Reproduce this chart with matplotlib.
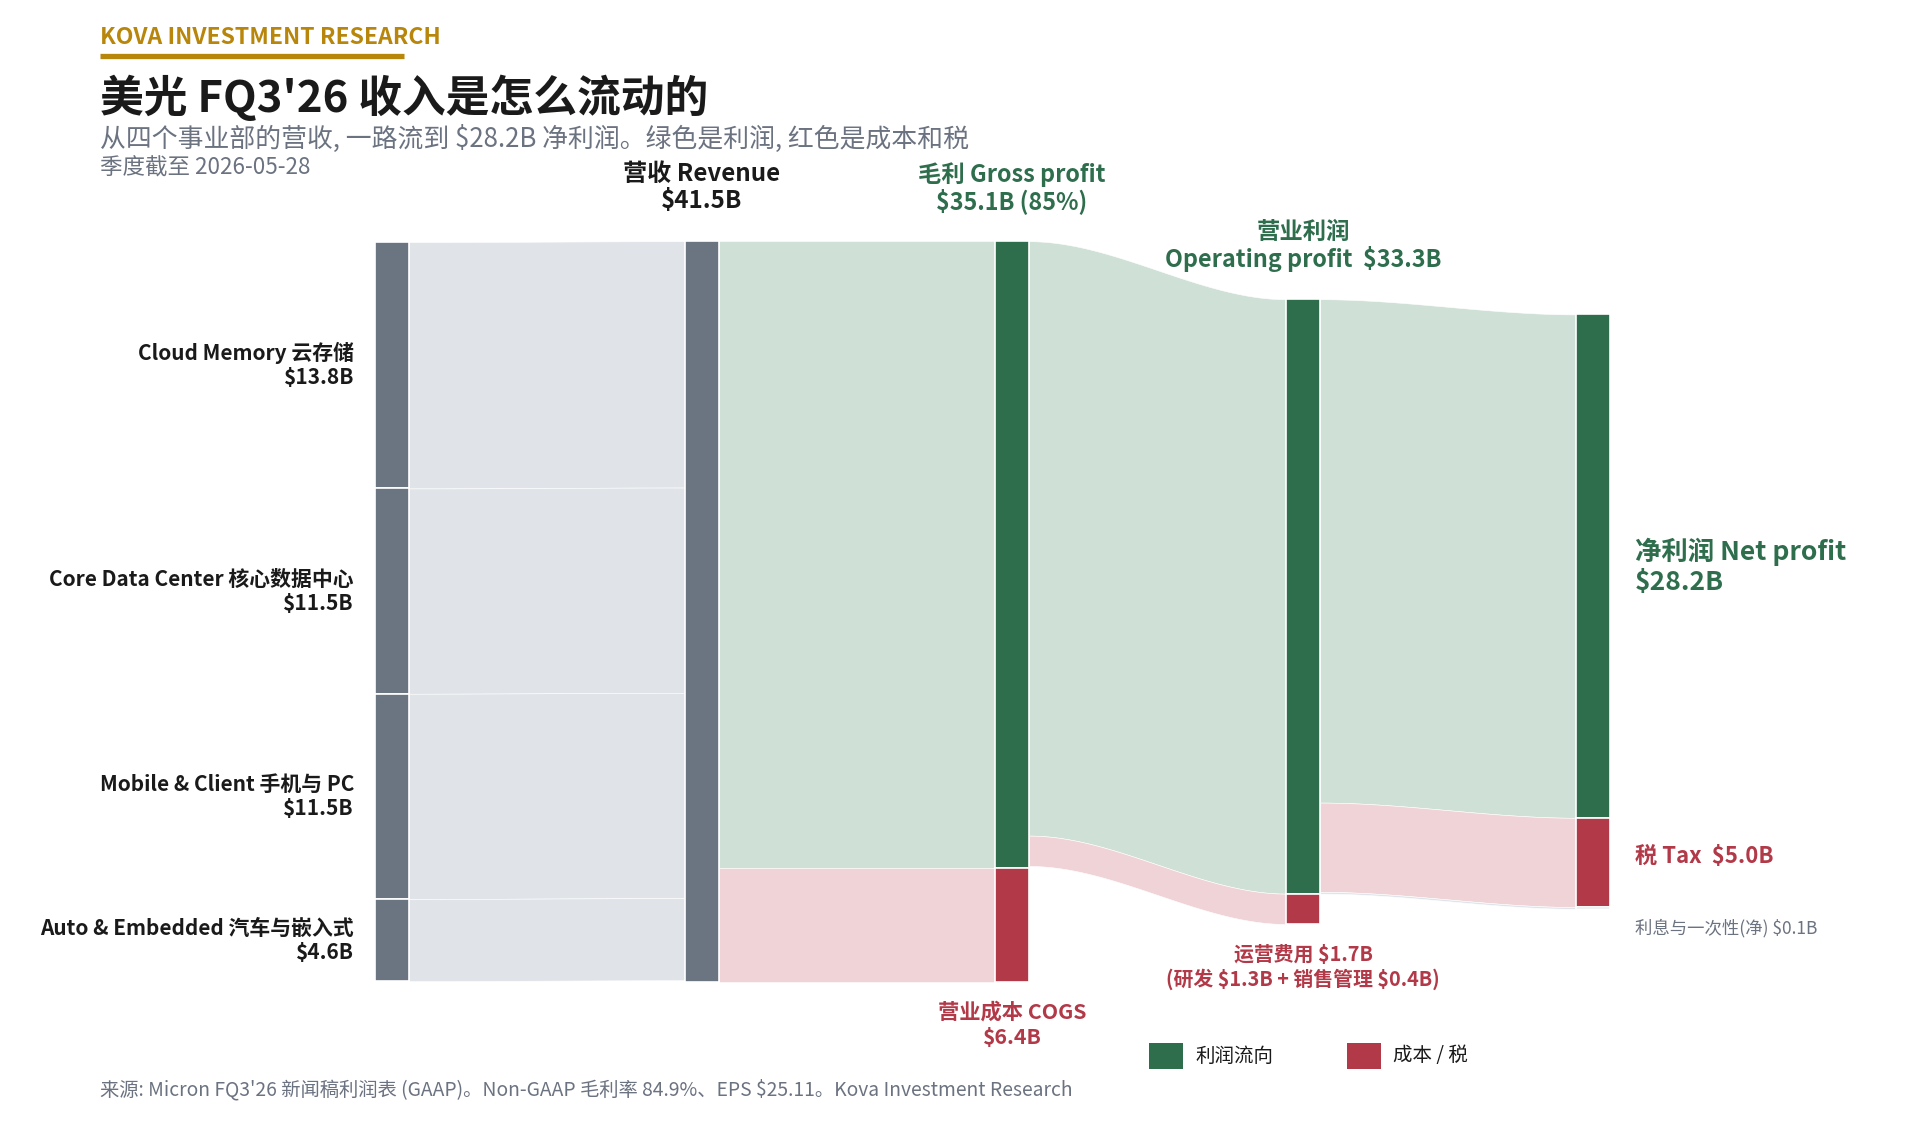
"""Micron FQ3'26 income flow (sankey style), drawn by hand with matplotlib."""

import numpy as np
import matplotlib
matplotlib.use("Agg")
from matplotlib import pyplot as plt
from matplotlib.patches import Rectangle

plt.rcParams['font.family'] = ['Noto Sans CJK SC', 'DejaVu Sans']
plt.rcParams['text.parse_math'] = False   # dollar signs are literal here

# ---------------------------------------------------------------- data ----
segment_names = ["Cloud Memory 云存储", "Core Data Center 核心数据中心",
                 "Mobile & Client 手机与 PC", "Auto & Embedded 汽车与嵌入式"]
segment_values = [13.8, 11.5, 11.5, 4.6]

revenue = 41.5
gross_profit = 35.1
gross_margin_pct = 85
cogs = 6.4
op_profit = 33.3
opex = 1.7
rd_expense = 1.3
sga_expense = 0.4
net_profit = 28.2
tax = 5.0
interest_other = 0.1

legend_labels = ["利润流向", "成本 / 税"]

# -------------------------------------------------------------- styles ----
GRAY_NODE = '#6b7582'
GRAY_FLOW = '#e0e3e8'
GREEN = '#2e6e4d'
GREEN_FLOW = '#cfe0d6'
RED = '#b23948'
RED_FLOW = '#f0d3d7'
SMALL_NODE = '#a9b1bb'
SMALL_FLOW = '#dfe4ea'
GOLD = '#b8860b'
INK = '#1a1a1a'
MUTED = '#6b7280'

W, H = 1920, 1140
fig = plt.figure(figsize=(W / 100, H / 100), dpi=100)
fig.patch.set_facecolor('white')
ax = fig.add_axes([0, 0, 1, 1])
ax.set_xlim(0, W)
ax.set_ylim(H, 0)
ax.axis('off')

col_x = [375, 684.5, 995, 1286, 1576]   # left edge of each node column
node_w = 34
y_mid = 611.6
px_per_b = 740.8 / revenue


def stack(values):
    """Vertical spans for a column of nodes, centred on y_mid."""
    total = sum(values) * px_per_b
    top = y_mid - total / 2
    spans = []
    for v in values:
        spans.append((top, top + v * px_per_b))
        top += v * px_per_b
    return spans


def node(col, span, color):
    y0, y1 = span
    ax.add_patch(Rectangle((col_x[col], y0), node_w, y1 - y0,
                           facecolor=color, edgecolor='white', lw=1.2,
                           zorder=3))


def link(col, src, dst, color):
    x0 = col_x[col] + node_w
    x1 = col_x[col + 1]
    xs = np.linspace(x0, x1, 200)
    u = (xs - x0) / (x1 - x0)
    s = u * u * (3 - 2 * u)
    top = src[0] + (dst[0] - src[0]) * s
    bot = src[1] + (dst[1] - src[1]) * s
    ax.fill_between(xs, top, bot, facecolor=color, edgecolor='white',
                    lw=0.4, zorder=1)


# ------------------------------------------------------------- columns ----
seg_spans = stack(segment_values)
rev_span = stack([revenue])[0]
gp_span, cogs_span = stack([gross_profit, cogs])
op_span, opex_span = stack([op_profit, opex])
net_span, tax_span, int_span = stack([net_profit, tax, interest_other])

# segments -> revenue
rev_top = rev_span[0]
for span in seg_spans:
    h = span[1] - span[0]
    link(0, span, (rev_top, rev_top + h), GRAY_FLOW)
    rev_top += h

# revenue -> gross profit / cogs
link(1, (rev_span[0], rev_span[0] + gross_profit * px_per_b), gp_span,
     GREEN_FLOW)
link(1, (rev_span[0] + gross_profit * px_per_b, rev_span[1]), cogs_span,
     RED_FLOW)

# gross profit -> operating profit / opex
g0 = gp_span[0]
link(2, (g0, g0 + op_profit * px_per_b), op_span, GREEN_FLOW)
g1 = g0 + op_profit * px_per_b
link(2, (g1, g1 + opex * px_per_b), opex_span, RED_FLOW)

# operating profit -> net profit / tax / interest
o0 = op_span[0]
link(3, (o0, o0 + net_profit * px_per_b), net_span, GREEN_FLOW)
o1 = o0 + net_profit * px_per_b
link(3, (o1, o1 + tax * px_per_b), tax_span, RED_FLOW)
o2 = o1 + tax * px_per_b
link(3, (o2, o2 + interest_other * px_per_b), int_span, SMALL_FLOW)

for span in seg_spans:
    node(0, span, GRAY_NODE)
node(1, rev_span, GRAY_NODE)
node(2, gp_span, GREEN)
node(2, cogs_span, RED)
node(3, op_span, GREEN)
node(3, opex_span, RED)
node(4, net_span, GREEN)
node(4, tax_span, RED)
node(4, int_span, SMALL_NODE)

# -------------------------------------------------------------- labels ----
for name, val, span in zip(segment_names, segment_values, seg_spans):
    yc = (span[0] + span[1]) / 2
    ax.text(col_x[0] - 21, yc - 12, name, ha='right', va='center',
            fontsize=15, fontweight='bold', color=INK)
    ax.text(col_x[0] - 21, yc + 12.5, f"${val:.1f}B", ha='right',
            va='center', fontsize=15, fontweight='bold', color=INK)


def top_label(col, span, lines, color, size=17):
    xc = col_x[col] + node_w / 2
    ax.text(xc, span[0] - 67, lines[0], ha='center', va='center',
            fontsize=size, fontweight='bold', color=color)
    ax.text(xc, span[0] - 40, lines[1], ha='center', va='center',
            fontsize=size, fontweight='bold', color=color)


def bottom_label(col, span, lines, color, size=14.5):
    xc = col_x[col] + node_w / 2
    ax.text(xc, span[1] + 30.5, lines[0], ha='center', va='center',
            fontsize=size, fontweight='bold', color=color)
    ax.text(xc, span[1] + 55.5, lines[1], ha='center', va='center',
            fontsize=size, fontweight='bold', color=color)


top_label(1, rev_span, ["营收 Revenue", f"${revenue:.1f}B"], INK, 17.4)
top_label(2, gp_span, ["毛利 Gross profit",
                       f"${gross_profit:.1f}B ({gross_margin_pct}%)"], GREEN,
          16.8)
top_label(3, op_span, ["营业利润", f"Operating profit  ${op_profit:.1f}B"],
          GREEN, 16.8)
bottom_label(2, cogs_span, ["营业成本 COGS", f"${cogs:.1f}B"], RED, 15.3)
bottom_label(3, opex_span, [f"运营费用 ${opex:.1f}B",
                            f"(研发 ${rd_expense:.1f}B + 销售管理 "
                            f"${sga_expense:.1f}B)"], RED, 14.3)

rx = col_x[4] + node_w + 25
nc = (net_span[0] + net_span[1]) / 2
ax.text(rx, nc - 14, "净利润 Net profit", ha='left', va='center',
        fontsize=19, fontweight='bold', color=GREEN)
ax.text(rx, nc + 16, f"${net_profit:.1f}B", ha='left', va='center',
        fontsize=19, fontweight='bold', color=GREEN)
ax.text(rx, (tax_span[0] + tax_span[1]) / 2 - 6, f"税 Tax  ${tax:.1f}B",
        ha='left', va='center', fontsize=16, fontweight='bold', color=RED)
ax.text(rx, int_span[1] + 19.5, f"利息与一次性(净) ${interest_other:.1f}B",
        ha='left', va='center', fontsize=12.5, color=MUTED)

# -------------------------------------------------------------- header ----
ax.text(100, 37.5, "KOVA INVESTMENT RESEARCH", ha='left', va='center',
        fontsize=16.5, fontweight='bold', color=GOLD)
ax.plot([100, 404], [55.5, 55.5], color=GOLD, lw=3.8,
        solid_capstyle='butt')
ax.text(100, 98, "美光 FQ3'26 收入是怎么流动的", ha='left', va='center',
        fontsize=31.5, fontweight='bold', color=INK)
ax.text(100, 139, "从四个事业部的营收, 一路流到 $28.2B 净利润。"
        "绿色是利润, 红色是成本和税", ha='left', va='center',
        fontsize=18.6, color=MUTED)
ax.text(100, 168, "季度截至 2026-05-28", ha='left', va='center',
        fontsize=16.2, color=MUTED)

# -------------------------------------------------------------- legend ----
for lx, color, label in zip([1149, 1347], [GREEN, RED], legend_labels):
    ax.add_patch(Rectangle((lx, 1043), 34, 26, facecolor=color,
                           edgecolor='none'))
    ax.text(lx + 46, 1056, label, ha='left', va='center', fontsize=14,
            color=INK)

# -------------------------------------------------------------- footer ----
ax.text(100, 1090, "来源: Micron FQ3'26 新闻稿利润表 (GAAP)。Non-GAAP 毛利率 "
        "84.9%、EPS $25.11。Kova Investment Research", ha='left',
        va='center', fontsize=13.9, color=MUTED)

fig.savefig("out.png", dpi=100, facecolor='white')
